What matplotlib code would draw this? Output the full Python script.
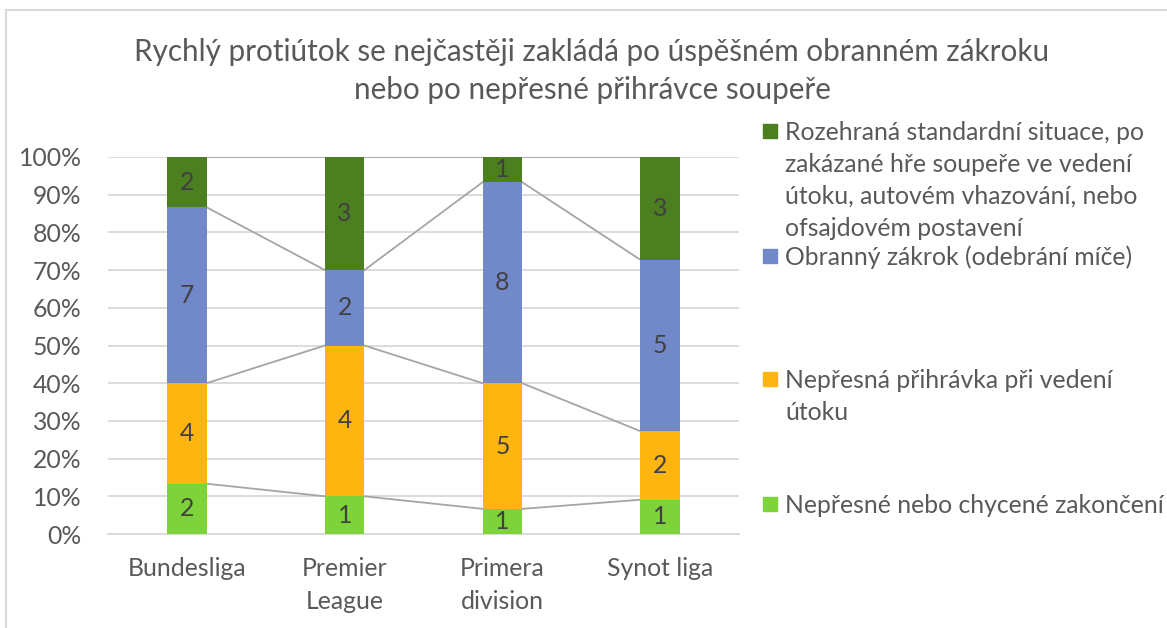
import numpy as np
import matplotlib
matplotlib.use("Agg")
import matplotlib.pyplot as plt
from matplotlib.patches import Rectangle

plt.rcParams["font.family"] = ["Lato", "DejaVu Sans"]

leagues = ["Bundesliga", "Premier\nLeague", "Primera\ndivision", "Synot liga"]
series_names = [
    "Nepřesné nebo chycené zakončení",
    "Nepřesná přihrávka při vedení\nútoku",
    "Obranný zákrok (odebrání míče)",
    "Rozehraná standardní situace, po\nzakázané hře soupeře ve vedení\nútoku, autovém vhazování, nebo\nofsajdovém postavení",
]
title = ("Rychlý protiútok se nejčastěji zakládá po úspěšném obranném zákroku\n"
         "nebo po nepřesné přihrávce soupeře")
zakonceni = [2, 1, 1, 1]
prihravka = [4, 4, 5, 2]
zakrok = [7, 2, 8, 5]
standardka = [2, 3, 1, 3]
colors = ["#7ED23A", "#FFB50F", "#7189C8", "#4B7F1F"]

text_col = "#595959"
grid_col = "#D9D9D9"
fs = 17.8

counts = np.array([zakonceni, prihravka, zakrok, standardka], dtype=float)
totals = counts.sum(axis=0)
pct = counts / totals * 100

W, H = 1167, 628
fig = plt.figure(figsize=(W / 100, H / 100), dpi=100)
ax = fig.add_axes([108 / W, 1 - 534 / H, 631 / W, (534 - 157) / H])

x = np.arange(len(leagues))
width = 0.25
bottom = np.zeros(len(leagues))
for k in range(len(series_names)):
    bars = ax.bar(x, pct[k], width, bottom=bottom, color=colors[k], zorder=3)
    ax.bar_label(bars, labels=[f"{int(v)}" for v in counts[k]], label_type="center",
                 color="#404040", fontsize=fs)
    bottom = bottom + pct[k]

    # series lines between neighbouring bars
    for i in range(len(leagues) - 1):
        ax.plot([x[i] + width / 2, x[i + 1] - width / 2], [bottom[i], bottom[i + 1]],
                color="#A5A5A5", lw=1.3, zorder=2)

ax.set_xlim(-0.5, len(leagues) - 0.5)
ax.set_ylim(0, 100)
ax.set_yticks(np.arange(0, 101, 10))
ax.set_yticklabels([f"{v}%" for v in range(0, 101, 10)])
ax.set_xticks(x)
ax.set_xticklabels(leagues, linespacing=1.52)
ax.tick_params(axis="both", length=0, labelsize=fs, colors=text_col)
ax.tick_params(axis="y", pad=19)
ax.tick_params(axis="x", pad=16.5)
ax.grid(axis="y", color=grid_col, lw=1.3, zorder=0)
for s in ["top", "right", "left"]:
    ax.spines[s].set_visible(False)
ax.spines["bottom"].set_color(grid_col)
ax.spines["bottom"].set_linewidth(1.3)

# title, one line at a time (baselines in pixels)
for line, yb in zip(title.split("\n"), [61, 99]):
    fig.text(592 / W, 1 - yb / H, line, ha="center", va="baseline",
             fontsize=21.3, color=text_col)

# legend drawn by hand, Excel-style spacing
legend_base = [513, 388, 265, 140]
for k in range(len(series_names)):
    yb = legend_base[k]
    fig.patches.append(Rectangle((763 / W, 1 - (yb - 2) / H), 14 / W, 14 / H,
                                 transform=fig.transFigure, color=colors[k]))
    for j, line in enumerate(series_names[k].split("\n")):
        fig.text(785 / W, 1 - (yb + 32 * j) / H, line, ha="left", va="baseline",
                 fontsize=fs, color=text_col)

fig.patches.append(Rectangle((6 / W, -0.1), 2, 1.1 - 10 / H, transform=fig.transFigure,
                             fill=False, edgecolor=grid_col, lw=1.5))

fig.savefig("out.png", dpi=100)
